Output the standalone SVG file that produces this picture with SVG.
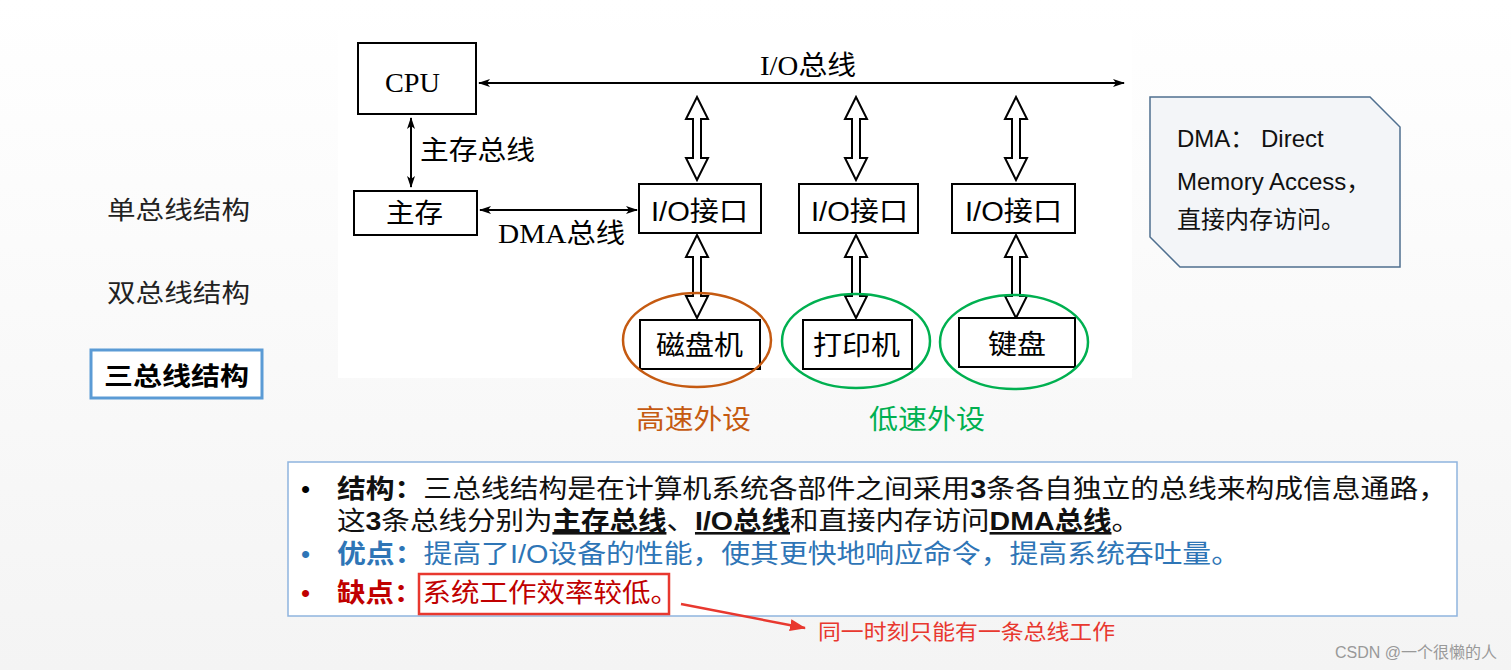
<svg xmlns="http://www.w3.org/2000/svg" width="1511" height="670" viewBox="0 0 1511 670">
<defs>
<linearGradient id="bg" x1="0" y1="0" x2="0" y2="1"><stop offset="0" stop-color="#ffffff"/><stop offset="1" stop-color="#f4f4f4"/></linearGradient>
<marker id="ah" viewBox="0 0 12 8" refX="11" refY="4" markerWidth="12" markerHeight="8" markerUnits="userSpaceOnUse" orient="auto-start-reverse"><path d="M0,0 L12,4 L0,8 L3,4 z" fill="#000"/></marker>
<marker id="rh" viewBox="0 0 16 12" refX="15" refY="6" markerWidth="16" markerHeight="12" markerUnits="userSpaceOnUse" orient="auto"><path d="M0,0 L16,6 L0,12 z" fill="#e8382f"/></marker>
</defs>
<style>
.box{fill:#fff;stroke:#000;stroke-width:2}
.s{font-family:"Liberation Serif","Noto Sans CJK SC",serif;fill:#000}
.h{font-family:"Liberation Sans","Noto Sans CJK SC",sans-serif}
.dbl{fill:#fff;stroke:#000;stroke-width:2}
.ln{stroke:#000;stroke-width:2;fill:none}
</style>
<rect width="1511" height="670" fill="url(#bg)"/>
<rect x="338" y="30" width="794" height="348" fill="#fff"/>

<g id="labels-left" class="h" font-size="25" fill="#222">
<text x="107" y="219" textLength="143" lengthAdjust="spacingAndGlyphs">单总线结构</text>
<text x="107" y="302" textLength="143" lengthAdjust="spacingAndGlyphs">双总线结构</text>
</g>
<g id="sel">
<rect x="91" y="350" width="171" height="48" fill="#fff" stroke="#5b9bd5" stroke-width="3"/>
<text x="104" y="385" class="h" font-size="25" font-weight="bold" textLength="145" lengthAdjust="spacingAndGlyphs">三总线结构</text>
</g>

<g id="connectors">
<line class="ln" x1="479" y1="83" x2="1124" y2="83" marker-start="url(#ah)" marker-end="url(#ah)"/>
<line class="ln" x1="411" y1="118" x2="411" y2="187" marker-start="url(#ah)" marker-end="url(#ah)"/>
<line class="ln" x1="480" y1="210" x2="637" y2="210" marker-start="url(#ah)" marker-end="url(#ah)"/>
<polygon class="dbl" points="697,97 708,119 701,119 701,158 708,158 697,180 686,158 693,158 693,119 686,119"/>
<polygon class="dbl" points="856,97 867,119 860,119 860,158 867,158 856,180 845,158 852,158 852,119 845,119"/>
<polygon class="dbl" points="1016,97 1027,119 1020,119 1020,158 1027,158 1016,180 1005,158 1012,158 1012,119 1005,119"/>
<polygon class="dbl" points="697,235 708,257 701,257 701,296 708,296 697,318 686,296 693,296 693,257 686,257"/>
<polygon class="dbl" points="856,235 867,257 860,257 860,296 867,296 856,318 845,296 852,296 852,257 845,257"/>
<polygon class="dbl" points="1016,235 1027,257 1020,257 1020,296 1027,296 1016,318 1005,296 1012,296 1012,257 1005,257"/>
<text x="760" y="75" class="s" font-size="27" textLength="96" lengthAdjust="spacingAndGlyphs">I/O总线</text>
<text x="420" y="160" class="s" font-size="27" textLength="115" lengthAdjust="spacingAndGlyphs">主存总线</text>
<text x="498" y="243" class="s" font-size="27" textLength="127" lengthAdjust="spacingAndGlyphs">DMA总线</text>
</g>

<g id="cpu"><rect class="box" x="358" y="43" width="118" height="71"/><text x="385" y="92" class="s" font-size="27" textLength="55" lengthAdjust="spacingAndGlyphs">CPU</text></g>
<g id="mem"><rect class="box" x="354" y="191" width="123" height="44"/><text x="386" y="223" class="s" font-size="27" textLength="57" lengthAdjust="spacingAndGlyphs">主存</text></g>
<g id="io1"><rect class="box" x="639" y="184" width="122" height="49"/><text x="651" y="221" class="h" font-size="27" textLength="97" lengthAdjust="spacingAndGlyphs">I/O接口</text></g>
<g id="io2"><rect class="box" x="799" y="184" width="119" height="49"/><text x="811" y="221" class="h" font-size="27" textLength="97" lengthAdjust="spacingAndGlyphs">I/O接口</text></g>
<g id="io3"><rect class="box" x="952" y="184" width="123" height="49"/><text x="965" y="221" class="h" font-size="27" textLength="97" lengthAdjust="spacingAndGlyphs">I/O接口</text></g>

<g id="disk"><rect class="box" x="640" y="320" width="120" height="49"/><ellipse cx="697" cy="340" rx="74" ry="47" fill="none" stroke="#c55a11" stroke-width="2.5"/><text x="656" y="355" class="s" font-size="27" textLength="87" lengthAdjust="spacingAndGlyphs">磁盘机</text></g>
<g id="printer"><rect class="box" x="803" y="320" width="109" height="49"/><ellipse cx="856" cy="341" rx="74" ry="47" fill="none" stroke="#00b050" stroke-width="2.5"/><text x="813" y="355" class="s" font-size="27" textLength="87" lengthAdjust="spacingAndGlyphs">打印机</text></g>
<g id="keyboard"><rect class="box" x="959" y="318" width="116" height="49"/><ellipse cx="1014" cy="342" rx="74" ry="47" fill="none" stroke="#00b050" stroke-width="2.5"/><text x="988" y="354" class="s" font-size="27" textLength="58" lengthAdjust="spacingAndGlyphs">键盘</text></g>

<text x="636" y="429" class="h" font-size="27" fill="#c55a11" textLength="115" lengthAdjust="spacingAndGlyphs">高速外设</text>
<text x="869" y="429" class="h" font-size="27" fill="#00b050" textLength="116" lengthAdjust="spacingAndGlyphs">低速外设</text>

<g id="dma-note">
<polygon points="1150,97 1370,97 1400,127 1400,267 1180,267 1150,237" fill="#f3f5f8" stroke="#4f6f8f" stroke-width="1.5"/>
<text class="h" font-size="24" fill="#111"><tspan x="1177" y="147">DMA：  Direct</tspan><tspan x="1177" y="190">Memory Access，</tspan><tspan x="1177" y="228">直接内存访问。</tspan></text>
</g>

<g id="textbox">
<rect x="288" y="462" width="1169" height="154" fill="#fff" stroke="#8fb4de" stroke-width="1.5"/>
<g class="h" font-size="26">
<text x="301" y="498" fill="#000">•</text>
<text x="337" y="498" fill="#111" textLength="1110" lengthAdjust="spacingAndGlyphs"><tspan font-weight="bold">结构：</tspan>三总线结构是在计算机系统各部件之间采用<tspan font-weight="bold">3</tspan>条各自独立的总线来构成信息通路，</text>
<text x="337" y="530" fill="#111" textLength="803" lengthAdjust="spacingAndGlyphs">这<tspan font-weight="bold">3</tspan>条总线分别为<tspan font-weight="bold" text-decoration="underline">主存总线</tspan>、<tspan font-weight="bold" text-decoration="underline">I/O总线</tspan>和直接内存访问<tspan font-weight="bold" text-decoration="underline">DMA总线</tspan>。</text>
<text x="301" y="563" fill="#2e75b6">•</text>
<text x="337" y="563" fill="#2e75b6" textLength="903" lengthAdjust="spacingAndGlyphs"><tspan font-weight="bold">优点：</tspan>提高了I/O设备的性能，使其更快地响应命令，提高系统吞吐量。</text>
<text x="301" y="602" fill="#c00000">•</text>
<text x="337" y="602" fill="#c00000" textLength="342" lengthAdjust="spacingAndGlyphs"><tspan font-weight="bold">缺点：</tspan>系统工作效率较低。</text>
</g>
<rect x="419" y="574" width="250" height="40" fill="none" stroke="#e8382f" stroke-width="2.5"/>
</g>
<line x1="681" y1="604" x2="805" y2="628" stroke="#e8382f" stroke-width="2.5" marker-end="url(#rh)"/>
<text x="818" y="639" class="h" font-size="21" fill="#e8382f" textLength="297" lengthAdjust="spacingAndGlyphs">同一时刻只能有一条总线工作</text>
<text x="1497" y="658" text-anchor="end" class="h" font-size="16" fill="#999">CSDN @一个很懒的人</text>
</svg>
